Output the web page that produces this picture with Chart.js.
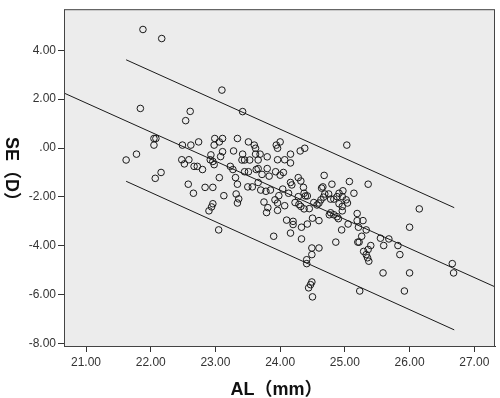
<!DOCTYPE html>
<html lang="zh">
<head>
<meta charset="UTF-8" />
<title>AL vs SE</title>
<script src="https://cdn.jsdelivr.net/npm/chart.js"></script>
<style>
  html, body { margin: 0; padding: 0; background: #ffffff; }
  #wrap { width: 500px; height: 398px; }
</style>
</head>
<body>
<div id="wrap"><canvas id="grafica" width="500" height="398"></canvas></div>
<script>
// axial length (mm) of each eye
const alValues = [
  21.88, 22.17, 21.84, 22.05, 22.08, 22.05, 21.78, 21.62, 22.16, 22.07,
  23.10, 23.42, 22.61, 22.54,
  22.99, 23.11, 23.34,
  22.74, 23.06, 23.51, 24.00,
  22.49, 22.62, 22.98, 23.60, 23.94,
  23.62, 23.96,
  22.93, 23.11, 23.28, 23.42, 23.62, 23.69, 23.80,
  22.48, 22.59, 22.92, 22.96, 23.08, 23.41, 23.45, 23.53, 23.66, 23.96, 24.07,
  22.52, 22.67, 22.72, 22.80, 22.98, 23.23, 23.27, 23.63, 23.66, 23.80,
  23.06, 23.31, 23.45, 23.51, 23.72, 23.83, 23.93, 24.00,
  22.58, 22.84, 22.96, 23.34, 23.50, 23.57, 23.66, 24.04,
  22.66, 23.13, 23.32, 23.70, 23.78, 23.85, 23.98,
  22.96, 23.36, 23.34, 23.75, 23.92, 23.96,
  22.90, 22.94, 23.81, 23.96,
  23.05, 23.90, 23.79, 24.10, 24.07,
  25.03, 24.38, 24.31, 24.16, 24.16, 24.05, 24.68, 24.28, 24.32, 24.16,
  24.18, 25.07, 25.36, 24.80, 24.66, 24.64, 24.36, 24.37, 24.13, 24.42,
  24.39, 24.28, 24.69, 24.75, 24.97, 24.91, 24.96, 24.88, 25.14, 24.67,
  24.63, 24.78, 24.83, 25.02, 25.04, 24.23, 24.29, 24.32, 24.37, 24.45,
  24.52, 24.60, 24.91, 24.96, 25.19, 24.96, 24.78,
  24.76, 24.88, 24.90, 24.83, 25.28, 25.19, 24.20, 24.20, 24.33, 24.42,
  24.50, 24.60, 24.95, 25.05, 25.21, 25.33, 24.16, 25.26, 25.55, 25.68,
  25.60, 24.33, 24.86, 25.20, 25.22, 25.40, 25.36, 25.29, 24.49, 24.60,
  24.49, 25.33, 25.35, 25.37, 24.41, 24.41, 25.59, 24.49, 24.47, 24.44,
  24.50, 25.23, 24.57,
  26.15, 26.00, 25.82, 25.85, 26.66, 26.68, 26.00, 25.92
];

// spherical equivalent (D), same order
const seValues = [
  4.85, 4.48, 1.62, 0.39, 0.39, 0.12, -0.25, -0.49, -1.00, -1.24,
  2.37, 1.49, 1.50, 1.12,
  0.39, 0.39, 0.39,
  0.25, 0.25, 0.25, 0.25,
  0.12, 0.12, 0.12, 0.12, 0.12,
  -0.01, -0.01,
  -0.28, -0.15, -0.12, -0.25, -0.25, -0.25, -0.36,
  -0.48, -0.48, -0.48, -0.55, -0.35, -0.49, -0.49, -0.49, -0.49, -0.48, -0.48,
  -0.65, -0.75, -0.75, -0.88, -0.68, -0.75, -0.88, -0.88, -0.84, -0.84,
  -1.21, -1.21, -0.97, -0.97, -1.08, -1.15, -0.97, -1.11,
  -1.48, -1.61, -1.61, -1.48, -1.59, -1.59, -1.41, -1.68,
  -1.85, -1.95, -1.88, -1.72, -1.77, -1.72, -1.95,
  -2.28, -2.08, -2.25, -2.21, -2.12, -2.25,
  -2.57, -2.41, -2.44, -2.55,
  -3.35, -3.61, -2.64, -2.95, -2.36,
  0.12, -0.01, -0.12, -0.25, -0.61, -1.00, -1.12, -1.21, -1.35, -1.41,
  -1.51, -1.37, -1.48, -1.48, -1.59, -1.64, -1.61, -1.85, -1.85, -1.96,
  -1.96, -1.99, -1.88, -1.88, -1.75, -1.85, -1.99, -1.99, -1.85, -2.01,
  -2.12, -2.09, -2.09, -2.12, -2.25, -2.23, -2.31, -2.39, -2.49, -2.48,
  -2.23, -2.25, -2.28, -2.39, -2.68, -2.57, -2.65,
  -2.73, -2.81, -2.89, -2.73, -2.97, -2.97, -3.00, -3.13, -3.24, -3.11,
  -2.87, -2.97, -3.35, -3.11, -3.24, -3.35, -3.48, -3.61, -3.69, -3.72,
  -3.99, -3.72, -3.85, -3.85, -3.85, -3.99, -4.15, -4.23, -4.09, -4.09,
  -4.36, -4.36, -4.49, -4.63, -4.57, -4.73, -5.11, -5.48, -5.59, -5.72,
  -6.09, -5.85, -2.33,
  -2.49, -3.24, -3.99, -4.36, -4.73, -5.11, -5.11, -5.85
];

// fit line and prediction limits (end points)
const fitX = [20.66, 27.32];
const fitY = [2.25, -5.68];
const upperX = [21.62, 26.69];
const upperY = [3.61, -2.44];
const lowerX = [21.62, 26.69];
const lowerY = [-1.36, -7.44];

const xTicks = [21, 22, 23, 24, 25, 26, 27];
const yTicks = [-8, -6, -4, -2, 0, 2, 4];
const xTitulo = "AL（mm）";
const yTitulo = "SE（D）";

function pares(xs, ys) {
  return xs.map((x, i) => ({ x: x, y: ys[i] }));
}

function etiqueta(v) {
  const s = Number(v).toFixed(2);
  if (s === "0.00" || s === "-0.00") return ".00";
  return s;
}

const fondoPlot = {
  id: "fondoPlot",
  beforeDatasetsDraw(chart) {
    const { ctx, chartArea: a } = chart;
    ctx.save();
    ctx.fillStyle = "#ececec";
    ctx.fillRect(a.left, a.top, a.right - a.left, a.bottom - a.top);
    ctx.restore();
  },
  afterDraw(chart) {
    const { ctx, chartArea: a } = chart;
    ctx.save();
    ctx.strokeStyle = "#444444";
    ctx.lineWidth = 1;
    ctx.strokeRect(a.left + 0.5, a.top + 0.5, a.right - a.left - 1, a.bottom - a.top);
    // axis titles
    ctx.fillStyle = "#111111";
    ctx.font = "bold 18px 'Liberation Sans', Arial, 'Noto Sans CJK SC', sans-serif";
    ctx.textAlign = "center";
    ctx.textBaseline = "middle";
    ctx.fillText(xTitulo, (a.left + a.right) / 2 - 3, 390);
    ctx.translate(11, (a.top + a.bottom) / 2 - 4);
    ctx.rotate(Math.PI / 2);
    ctx.fillText(yTitulo, 0, 0);
    ctx.restore();
  }
};

const ctx = document.getElementById("grafica").getContext("2d");
new Chart(ctx, {
  type: "scatter",
  data: {
    datasets: [
      {
        label: "fit",
        data: pares(fitX, fitY),
        showLine: true,
        borderColor: "#1a1a1a",
        borderWidth: 1,
        pointRadius: 0
      },
      {
        label: "upper",
        data: pares(upperX, upperY),
        showLine: true,
        borderColor: "#1a1a1a",
        borderWidth: 1,
        pointRadius: 0
      },
      {
        label: "lower",
        data: pares(lowerX, lowerY),
        showLine: true,
        borderColor: "#1a1a1a",
        borderWidth: 1,
        pointRadius: 0
      },
      {
        label: "SE",
        data: pares(alValues, seValues),
        pointStyle: "circle",
        pointRadius: 3.3,
        pointBorderWidth: 1,
        pointBorderColor: "#1a1a1a",
        pointBackgroundColor: "rgba(0,0,0,0)"
      }
    ]
  },
  options: {
    responsive: false,
    animation: false,
    events: [],
    layout: { padding: { top: 1, right: 3, left: 0, bottom: 0 } },
    plugins: {
      legend: { display: false },
      tooltip: { enabled: false }
    },
    scales: {
      x: {
        type: "linear",
        min: 20.66,
        max: 27.32,
        afterBuildTicks: (s) => { s.ticks = xTicks.map(v => ({ value: v })); },
        afterFit: (s) => { s.height = 52; },
        border: { display: true, color: "#333333", width: 1 },
        grid: { drawOnChartArea: false, drawTicks: true, tickLength: 6, color: "#333333" },
        ticks: {
          padding: 3,
          color: "#333333",
          font: { family: "'Liberation Sans', Arial, sans-serif", size: 12 },
          callback: (v) => etiqueta(v)
        }
      },
      y: {
        type: "linear",
        min: -8.1,
        max: 5.68,
        afterBuildTicks: (s) => { s.ticks = yTicks.map(v => ({ value: v })); },
        afterFit: (s) => { s.width = 64; },
        border: { display: true, color: "#333333", width: 1 },
        grid: { drawOnChartArea: false, drawTicks: true, tickLength: 6, color: "#333333" },
        ticks: {
          padding: 2,
          color: "#333333",
          font: { family: "'Liberation Sans', Arial, sans-serif", size: 12 },
          callback: (v) => etiqueta(v)
        }
      }
    }
  },
  plugins: [fondoPlot]
});
</script>
</body>
</html>
